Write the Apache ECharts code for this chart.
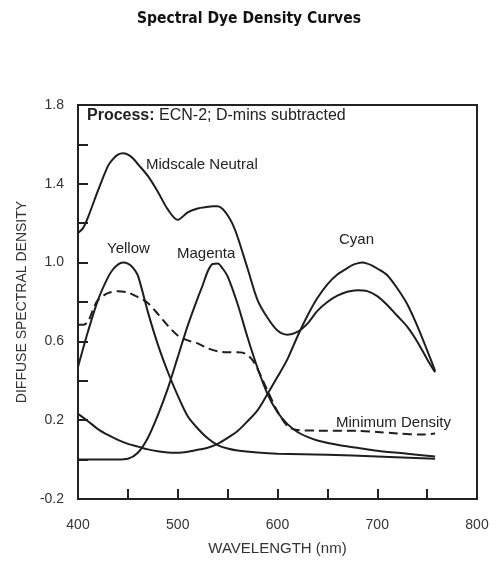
<!DOCTYPE html>
<html>
<head>
<meta charset="utf-8">
<script src="https://cdn.jsdelivr.net/npm/echarts@6/dist/echarts.min.js"></script>
<style>
html,body{margin:0;padding:0;background:#fff;}
#chart{width:498px;height:561px;}
</style>
</head>
<body>
<div id="chart"></div>
<script>
// Wavelength (nm) and diffuse spectral density values
const yellowWl = [400, 410, 420, 430, 435, 440, 445, 450, 455, 460, 470, 480, 490, 500, 510, 520, 530, 540, 550, 560, 580, 600, 650, 700, 758];
const yellowD  = [0.47, 0.65, 0.81, 0.925, 0.965, 0.99, 1.0, 0.995, 0.975, 0.935, 0.75, 0.585, 0.446, 0.325, 0.22, 0.158, 0.108, 0.074, 0.056, 0.046, 0.036, 0.03, 0.024, 0.016, 0.004];

const magentaWl = [400, 420, 440, 450, 460, 470, 480, 490, 500, 510, 520, 525, 530, 535, 540, 545, 550, 560, 570, 580, 590, 600, 610, 620, 630, 640, 660, 680, 700, 730, 758];
const magentaD  = [0.0, 0.0, 0.0, 0.004, 0.035, 0.11, 0.225, 0.36, 0.52, 0.68, 0.82, 0.885, 0.955, 0.993, 0.995, 0.97, 0.93, 0.79, 0.62, 0.465, 0.333, 0.24, 0.18, 0.14, 0.115, 0.097, 0.075, 0.06, 0.045, 0.03, 0.016];

const cyanWl = [400, 410, 420, 430, 440, 450, 460, 470, 480, 490, 500, 510, 520, 530, 540, 550, 560, 570, 580, 590, 600, 610, 620, 630, 640, 650, 660, 670, 675, 680, 685, 690, 695, 700, 710, 720, 730, 740, 750, 758];
const cyanD  = [0.232, 0.195, 0.155, 0.125, 0.10, 0.08, 0.066, 0.052, 0.042, 0.036, 0.035, 0.04, 0.05, 0.06, 0.08, 0.11, 0.145, 0.195, 0.25, 0.333, 0.42, 0.51, 0.625, 0.73, 0.82, 0.89, 0.94, 0.972, 0.987, 0.996, 1.0, 0.995, 0.985, 0.97, 0.936, 0.87, 0.79, 0.68, 0.555, 0.45];

const neutralWl = [400, 405, 410, 420, 430, 435, 440, 445, 450, 455, 460, 470, 480, 490, 500, 510, 520, 530, 535, 540, 545, 550, 555, 560, 570, 580, 590, 600, 610, 620, 630, 640, 650, 660, 670, 680, 690, 700, 710, 720, 730, 740, 750, 758];
const neutralD  = [1.15, 1.175, 1.23, 1.365, 1.49, 1.525, 1.548, 1.555, 1.548, 1.53, 1.50, 1.44, 1.36, 1.27, 1.217, 1.255, 1.275, 1.283, 1.286, 1.286, 1.272, 1.24, 1.195, 1.13, 0.97, 0.81, 0.72, 0.655, 0.634, 0.648, 0.69, 0.755, 0.80, 0.832, 0.852, 0.86, 0.855, 0.83, 0.785, 0.73, 0.675, 0.60, 0.51, 0.443];

const minDensWl = [400, 405, 410, 415, 420, 430, 440, 450, 460, 470, 480, 490, 500, 510, 520, 530, 540, 550, 560, 565, 570, 575, 580, 585, 590, 600, 610, 620, 640, 680, 700, 720, 745, 758];
const minDensD  = [0.684, 0.684, 0.70, 0.76, 0.81, 0.845, 0.855, 0.848, 0.825, 0.795, 0.74, 0.68, 0.63, 0.605, 0.59, 0.565, 0.55, 0.545, 0.545, 0.543, 0.53, 0.505, 0.46, 0.405, 0.35, 0.245, 0.17, 0.15, 0.147, 0.146, 0.14, 0.133, 0.127, 0.132];

const xTickLabels = [400, 500, 600, 700, 800];
const yTickLabels = [-0.2, 0.2, 0.6, 1.0, 1.4, 1.8];

function pairs(wl, d){ return wl.map((w,i)=>[w, d[i]]); }

const lineColor = '#1e1e1e';
function curve(name, wl, d, dashed){
  return {
    name: name, type: 'line', smooth: 0.3, symbol: 'none',
    data: pairs(wl, d),
    lineStyle: { color: lineColor, width: 2, type: dashed ? [9, 5] : 'solid' },
    z: 3
  };
}

const chart = echarts.init(document.getElementById('chart'), null, {renderer: 'canvas'});
const labelFont = {fontFamily: 'Liberation Sans, Arial, sans-serif', fontSize: 14, color: '#333'};
const annFont = '15px Liberation Sans, Arial, sans-serif';

chart.setOption({
  animation: false,
  backgroundColor: '#fff',
  title: {
    text: 'Spectral Dye Density Curves',
    left: 'center', top: 6,
    textStyle: {fontFamily: 'DejaVu Sans Condensed, DejaVu Sans, sans-serif', fontWeight: 'bold', fontSize: 15.5, color: '#111'}
  },
  grid: {left: 78, right: 21, top: 105, bottom: 58, show: true, borderColor: '#222', borderWidth: 2, backgroundColor: 'transparent'},
  xAxis: {
    type: 'value', min: 400, max: 800, interval: 50,
    name: 'WAVELENGTH (nm)', nameLocation: 'middle', nameGap: 42,
    nameTextStyle: {fontFamily: 'Liberation Sans, Arial, sans-serif', fontSize: 15, color: '#333'},
    axisLine: {show: true, onZero: false, lineStyle: {color: '#222', width: 2}},
    axisTick: {show: true, inside: true, length: 10, lineStyle: {color: '#222', width: 2}},
    axisLabel: Object.assign({margin: 19, formatter: v => xTickLabels.indexOf(v) >= 0 ? String(v) : ''}, labelFont),
    splitLine: {show: false}
  },
  yAxis: {
    type: 'value', min: -0.2, max: 1.8, interval: 0.2,
    name: 'DIFFUSE SPECTRAL DENSITY', nameLocation: 'middle', nameGap: 46,
    nameTextStyle: {fontFamily: 'Liberation Sans, Arial, sans-serif', fontSize: 14, color: '#333'},
    axisLine: {show: true, onZero: false, lineStyle: {color: '#222', width: 2}},
    axisTick: {show: true, inside: true, length: 10, lineStyle: {color: '#222', width: 2}},
    axisLabel: Object.assign({margin: 14, formatter: v => {
      const hit = yTickLabels.some(t => Math.abs(t - v) < 1e-6);
      return hit ? v.toFixed(1) : '';
    }}, labelFont),
    splitLine: {show: false}
  },
  series: [
    curve('Midscale Neutral', neutralWl, neutralD, false),
    curve('Yellow', yellowWl, yellowD, false),
    curve('Magenta', magentaWl, magentaD, false),
    curve('Cyan', cyanWl, cyanD, false),
    curve('Minimum Density', minDensWl, minDensD, true)
  ],
  graphic: [
    {type: 'text', left: 87, top: 108, style: {rich: {b: {fontWeight: 'bold', fontSize: 16, fontFamily: 'Liberation Sans, Arial, sans-serif', fill: '#222'}, r: {fontSize: 16, fontFamily: 'Liberation Sans, Arial, sans-serif', fill: '#222'}}, text: '{b|Process:}{r| ECN-2; D-mins subtracted}'}},
    {type: 'text', left: 146, top: 157, style: {text: 'Midscale Neutral', font: annFont, fill: '#222'}},
    {type: 'text', left: 107, top: 241, style: {text: 'Yellow', font: annFont, fill: '#222'}},
    {type: 'text', left: 177, top: 246, style: {text: 'Magenta', font: annFont, fill: '#222'}},
    {type: 'text', left: 339, top: 232, style: {text: 'Cyan', font: annFont, fill: '#222'}},
    {type: 'text', left: 336, top: 415, style: {text: 'Minimum Density', font: annFont, fill: '#222'}}
  ]
});
</script>
</body>
</html>
